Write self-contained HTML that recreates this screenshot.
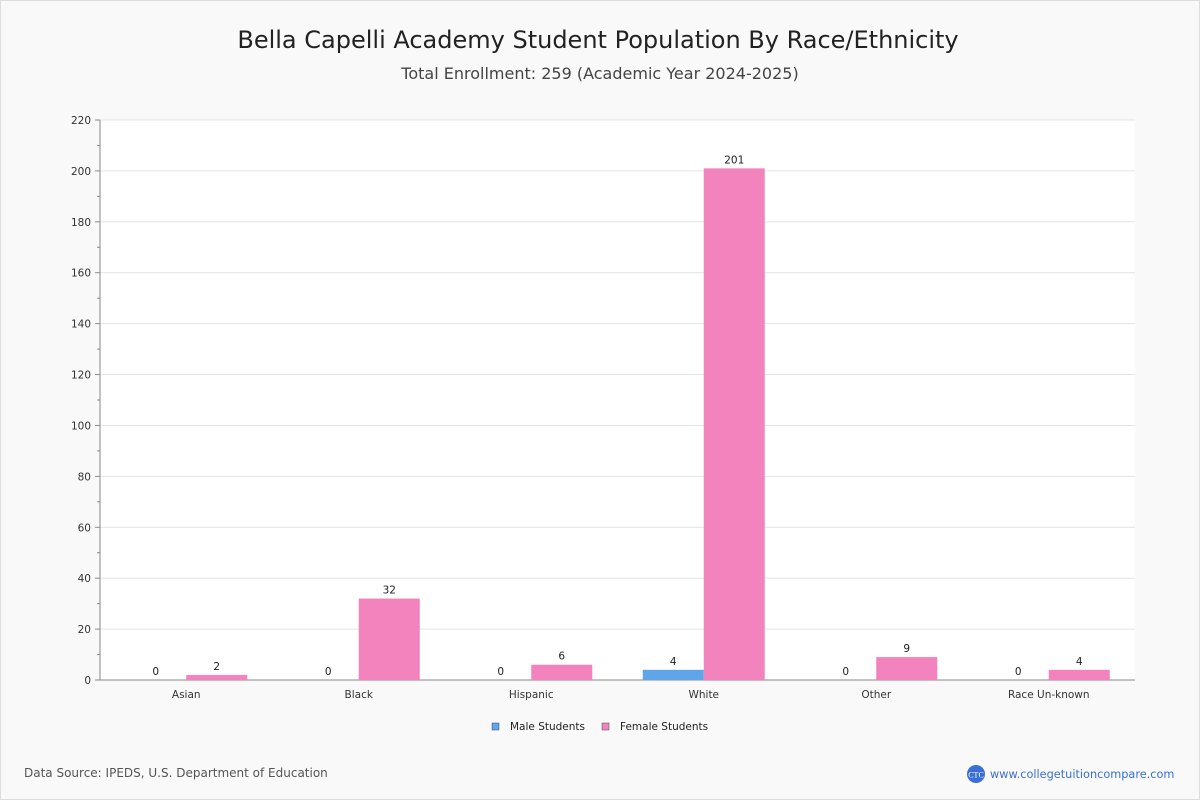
<!DOCTYPE html>
<html><head><meta charset="utf-8"><style>
body{margin:0;width:1200px;height:800px;background:#fff;font-family:"DejaVu Sans","Liberation Sans",sans-serif}
#wrap{position:absolute;left:0;top:0;width:1198px;height:798px;border:1px solid #ddd;background:#f9f9f9}
</style></head><body>
<div id="wrap">
<svg id="chart" width="1200" height="800" style="position:absolute;left:-1px;top:-1px">
<text x="598" y="48" text-anchor="middle" font-size="24" fill="#222">Bella Capelli Academy Student Population By Race/Ethnicity</text>
<text x="600" y="79" text-anchor="middle" font-size="16" fill="#444">Total Enrollment: 259 (Academic Year 2024-2025)</text>
<rect x="100" y="120" width="1035" height="560" fill="#fff"/>
<g id="grid"></g><g id="bars"></g>
<g>
<rect x="492" y="723" width="7" height="7" fill="#5fa5e8" stroke="#446" stroke-width="0.5"/>
<text x="510" y="730" font-size="10.5" fill="#222">Male Students</text>
<rect x="602" y="723" width="7" height="7" fill="#f283bc" stroke="#446" stroke-width="0.5"/>
<text x="620" y="730" font-size="10.5" fill="#222">Female Students</text>
</g>
<text x="24" y="777" font-size="12" fill="#555">Data Source: IPEDS, U.S. Department of Education</text>
<circle cx="976" cy="774" r="9" fill="#3a6fd8"/>
<text x="976" y="777.5" text-anchor="middle" font-size="8" fill="#fff" font-family="Liberation Serif,serif">CTC</text>
<text x="990" y="778" font-size="11.3" fill="#3a6fd8">www.collegetuitioncompare.com</text>
</svg></div>
<script>
const categories=["Asian","Black","Hispanic","White","Other","Race Un-known"];
const maleValues=[0,0,0,4,0,0];
const femaleValues=[2,32,6,201,9,4];
const yTicks=[0,20,40,60,80,100,120,140,160,180,200,220];
const NS="http://www.w3.org/2000/svg";
const x0=100,x1=1135,yTop=120,yBot=680,yMax=220;
const y=v=>yBot-(v/yMax)*(yBot-yTop);
const band=(x1-x0)/categories.length;
const cx=i=>x0+band*(i+0.5);
function mk(tag,attrs,parent,txt){const e=document.createElementNS(NS,tag);for(const k in attrs)e.setAttribute(k,attrs[k]);if(txt!==undefined)e.textContent=txt;parent.appendChild(e);return e;}
const grid=document.getElementById('grid'),bars=document.getElementById('bars');
yTicks.forEach(t=>{
 if(t>0){const l=mk('line',{x1:x0,x2:x1,y1:y(t),y2:y(t),stroke:'#e4e4e4'},grid);
 
 }
 const tk=mk('line',{x1:x0-5,x2:x0,y1:y(t),y2:y(t),stroke:'#888'},grid);
 
 
 if(t<yMax){const mt=mk('line',{x1:x0-3,x2:x0,y1:y(t+10),y2:y(t+10),stroke:'#888'},grid);
 
 }
 const lb=mk('text',{x:x0-9,y:y(t)+4,'text-anchor':'end','font-size':'10.5',fill:'#333'},grid,t);
 
 
});
const ax=mk('line',{x1:x0,x2:x0,y1:yTop,y2:yBot,stroke:'#888'},grid);


const xa=mk('line',{x1:x0,x2:x1,y1:yBot,y2:yBot,stroke:'#888'},grid);


const bw=61;
categories.forEach((c,i)=>{
 const m=maleValues[i],f=femaleValues[i],c0=cx(i);
 const rm=mk('rect',{x:c0-bw,y:y(m),width:bw,height:yBot-y(m),fill:'#5fa5e8'},bars);
 
 
 const rf=mk('rect',{x:c0,y:y(f),width:bw,height:yBot-y(f),fill:'#f283bc'},bars);
 
 
 const lm=mk('text',{x:c0-bw/2,y:y(m)-5,'text-anchor':'middle','font-size':'10.5',fill:'#222'},bars,m);
 
 
 const lf=mk('text',{x:c0+bw/2,y:y(f)-5,'text-anchor':'middle','font-size':'10.5',fill:'#222'},bars,f);
 
 
 const xl=mk('text',{x:c0,y:698,'text-anchor':'middle','font-size':'10.5',fill:'#333'},bars,c);
 
 
});
</script>
</body></html>
